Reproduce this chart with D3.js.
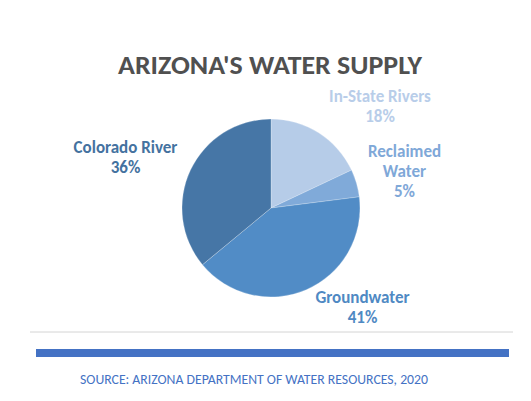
<!DOCTYPE html>
<html><head><meta charset="utf-8">
<script src="https://cdn.jsdelivr.net/npm/d3@7/dist/d3.min.js"></script>
<style>body{margin:0;background:#fff}svg{display:block}</style>
</head><body>
<svg id="c" width="531" height="401"></svg>
<script>
const categories = ["In-State Rivers", "Reclaimed Water", "Groundwater", "Colorado River"];
const values = [18, 5, 41, 36];
const sliceColors = ["#b6cce8", "#80aad9", "#518cc6", "#4676a6"];
const labelColors = ["#b8cde9", "#7fa8d8", "#4f89c3", "#44729f"];
const labelLines = [["In-State Rivers", "18%"], ["Reclaimed", "Water", "5%"], ["Groundwater", "41%"], ["Colorado River", "36%"]];
const labelPos = [[380, 102], [404.5, 157], [362.5, 303], [125.5, 153]];

const svg = d3.select("#c");
const font = "Calibri, Carlito, 'Open Sans', sans-serif";

svg.append("text").attr("x", 270).attr("y", 74).attr("text-anchor", "middle")
  .attr("font-family", font).attr("font-weight", "bold").attr("font-size", 27)
  .attr("fill", "#505050").attr("textLength", 304).attr("lengthAdjust", "spacingAndGlyphs")
  .text("ARIZONA'S WATER SUPPLY");

const cx = 271, cy = 208, r = 89;
const pie = d3.pie().sort(null).value(d => d)(values);
const arc = d3.arc().innerRadius(0).outerRadius(r);
const g = svg.append("g").attr("transform", `translate(${cx},${cy})`);
g.selectAll("path").data(pie).join("path")
  .attr("d", arc).attr("fill", (d, i) => sliceColors[i])
  .attr("stroke", "#ffffff").attr("stroke-opacity", 0.4).attr("stroke-width", 0.6);

labelLines.forEach((lines, i) => {
  const t = svg.append("text").attr("text-anchor", "middle")
    .attr("font-family", font).attr("font-weight", "bold").attr("font-size", 17)
    .attr("fill", labelColors[i]);
  lines.forEach((l, j) => {
    t.append("tspan").attr("x", labelPos[i][0]).attr("y", labelPos[i][1] + j * 20).text(l);
  });
});

svg.append("line").attr("x1", 30).attr("x2", 513).attr("y1", 332).attr("y2", 332)
  .attr("stroke", "#d4d4d4").attr("stroke-width", 1);
svg.append("rect").attr("x", 36).attr("y", 349).attr("width", 473).attr("height", 8)
  .attr("fill", "#4472c4");
svg.append("text").attr("x", 80).attr("y", 384)
  .attr("font-family", font).attr("font-size", 13.5).attr("fill", "#4472c4")
  .attr("textLength", 348).attr("lengthAdjust", "spacingAndGlyphs")
  .text("SOURCE: ARIZONA DEPARTMENT OF WATER RESOURCES, 2020");
</script>
</body></html>
